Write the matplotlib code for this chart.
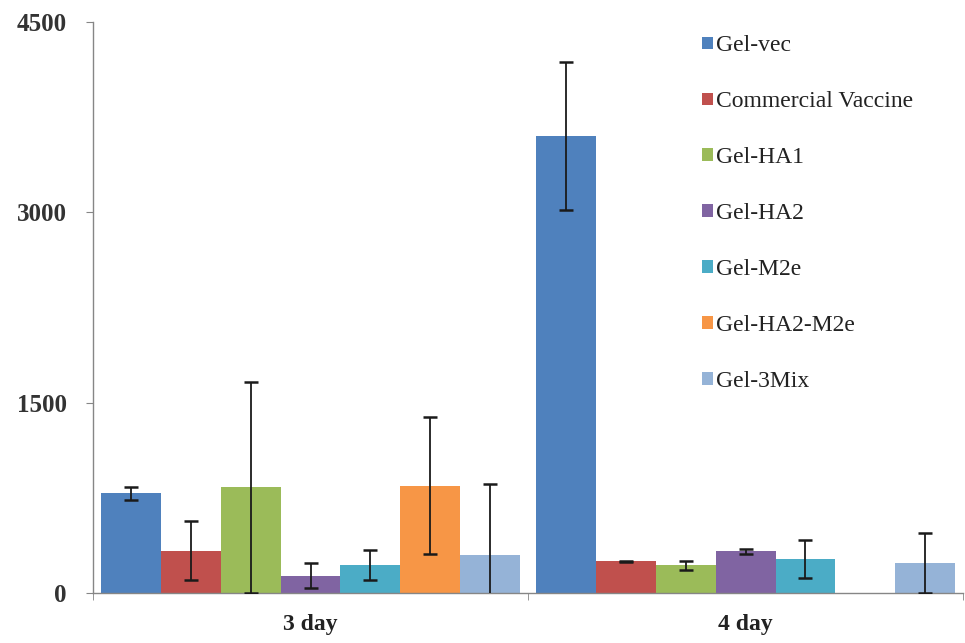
import numpy as np
import matplotlib
matplotlib.use("Agg")
import matplotlib.pyplot as plt
from matplotlib.patches import Patch

# Data
days = ["3 day", "4 day"]
groups = ["Gel-vec", "Commercial Vaccine", "Gel-HA1", "Gel-HA2",
          "Gel-M2e", "Gel-HA2-M2e", "Gel-3Mix"]
day3_mean = [785, 333, 833, 136, 217, 846, 301]
day3_err = [50, 233, 830, 100, 118, 537, 558]
day4_mean = [3603, 249, 217, 327, 267, np.nan, 236]
day4_err = [585, 5, 35, 17, 147, np.nan, 235]
y_ticks = [0, 1500, 3000, 4500]

colors = ["#4F81BD", "#C0504D", "#9BBB59", "#8064A2",
          "#4BACC6", "#F79646", "#95B3D7"]

plt.rcParams["font.family"] = ["Liberation Serif", "DejaVu Serif"]

fig = plt.figure(figsize=(9.65, 6.43), dpi=100)
ax = fig.add_axes([0.0964, 0.0778, 0.9016, 0.888])

means = np.array([day3_mean, day4_mean], dtype=float)
errs = np.array([day3_err, day4_err], dtype=float)
x = np.arange(len(days))
n = len(groups)
w = 0.1377

for i, g in enumerate(groups):
    xpos = x + (i - (n - 1) / 2) * w
    ax.bar(xpos, means[:, i], width=w, color=colors[i], edgecolor="none",
           label=g, zorder=2)
    ax.errorbar(xpos, means[:, i], yerr=errs[:, i], fmt="none",
                ecolor="#1a1a1a", elinewidth=1.3, capsize=5, capthick=1.8,
                zorder=3)

ax.set_xlim(-0.5, 1.5)
ax.set_ylim(0, 4500)
ax.set_yticks(y_ticks)
ax.set_yticklabels([str(v) for v in y_ticks], fontsize=18, fontweight="bold",
                   color="#333333")
ax.tick_params(axis="y", direction="out", length=5, color="#868686", pad=14)

ax.set_xticks(x)
ax.set_xticklabels(days, fontsize=17, fontweight="bold", color="#222222")
ax.set_xticks([-0.5, 0.5, 1.5], minor=True)
ax.tick_params(axis="x", which="major", length=0, pad=15)
ax.tick_params(axis="x", which="minor", direction="out", length=5,
               color="#868686")

for s in ["top", "right"]:
    ax.spines[s].set_visible(False)
for s in ["left", "bottom"]:
    ax.spines[s].set_color("#868686")
    ax.spines[s].set_linewidth(1.0)

handles = [Patch(facecolor=c, edgecolor="none") for c in colors]
leg = ax.legend(handles, groups, loc="upper left",
                bbox_to_anchor=(0.7275, 0.945), bbox_transform=fig.transFigure,
                frameon=False, fontsize=17, handlelength=0.45,
                handleheight=0.45, handletextpad=0.15, labelspacing=1.48,
                borderpad=0, borderaxespad=0)
for t in leg.get_texts():
    t.set_color("#222222")

fig.savefig("out.png", dpi=100, facecolor="white")
